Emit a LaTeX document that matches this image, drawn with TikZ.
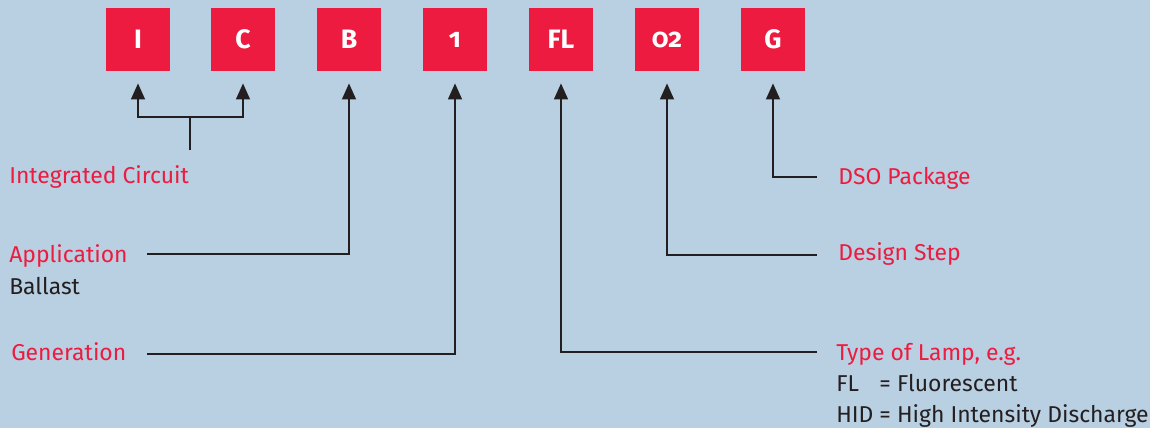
\documentclass[tikz,border=0pt]{standalone}
\usepackage{fontspec}
\setmainfont{Fira Sans}
\newfontfamily\boxfont[Numbers=OldStyle]{Fira Sans}
\usetikzlibrary{arrows.meta}
\definecolor{bgblue}{RGB}{185,207,226}
\definecolor{tred}{RGB}{237,27,63}
\definecolor{tdark}{RGB}{35,31,32}
\begin{document}
\begin{tikzpicture}[x=0.75pt,y=-0.75pt,
  letterbox/.style={fill=tred,minimum width=48pt,minimum height=47.5pt,inner sep=0pt,text=white,font=\boxfont\bfseries\fontsize{20}{24}\selectfont},
  lbl/.style={anchor=base west,inner sep=0pt,text=tred,font=\fontsize{17.2}{20}\selectfont},
  sub/.style={anchor=base west,inner sep=0pt,text=tdark,font=\fontsize{17.2}{20}\selectfont},
  conn/.style={draw=tdark,line width=1pt},
  arr/.style={conn,-{Triangle[width=10.5pt,length=12pt]},shorten >=9pt}]
\fill[bgblue] (0,0) rectangle (1150,428);
\useasboundingbox (0,0) rectangle (1150,428);
\node[letterbox] (bI) at (138,39.5) {I};
\node[letterbox] (bC) at (243,39.5) {C};
\node[letterbox] (bB) at (349,39.5) {B};
\node[letterbox] (b1) at (455,39.5) {1};
\node[letterbox] (bFL) at (561,39.5) {FL};
\node[letterbox] (b02) at (667,39.5) {02};
\node[letterbox] (bG) at (773,39.5) {G};
% labels
\node[lbl] (ic) at (9,183) {Integrated Circuit};
\node[lbl] (app) at (9,262) {Application};
\node[sub] (ball) at (9,294) {Ballast};
\node[lbl] (gen) at (11,360) {Generation};
\node[lbl] (dso) at (838,184) {DSO Package};
\node[lbl] (ds) at (838,260) {Design Step};
\node[lbl] (tl) at (836,360) {Type of Lamp, e.g.};
\node[sub] (fl) at (836,391) {\rlap{FL}\phantom{HID} = Fluorescent};
\node[sub] (hid) at (836,422) {HID = High Intensity Discharge};
% coordinates
\coordinate (ics) at (190,150);
\coordinate (icj) at (190,117);
\coordinate (appc) at (147,254);
\coordinate (genc) at (147,354);
\coordinate (dsoc) at (817,177);
\coordinate (dsc) at (817,255);
\coordinate (tlc) at (817,352);
% connectors
\draw[conn] (ics) -- (icj);
\draw[arr] (icj) -| (bI.south);
\draw[arr] (icj) -| (bC.south);
\draw[arr] (appc) -| (bB.south);
\draw[arr] (genc) -| (b1.south);
\draw[arr] (tlc) -| (bFL.south);
\draw[arr] (dsc) -| (b02.south);
\draw[arr] (dsoc) -| (bG.south);
\end{tikzpicture}
\end{document}
